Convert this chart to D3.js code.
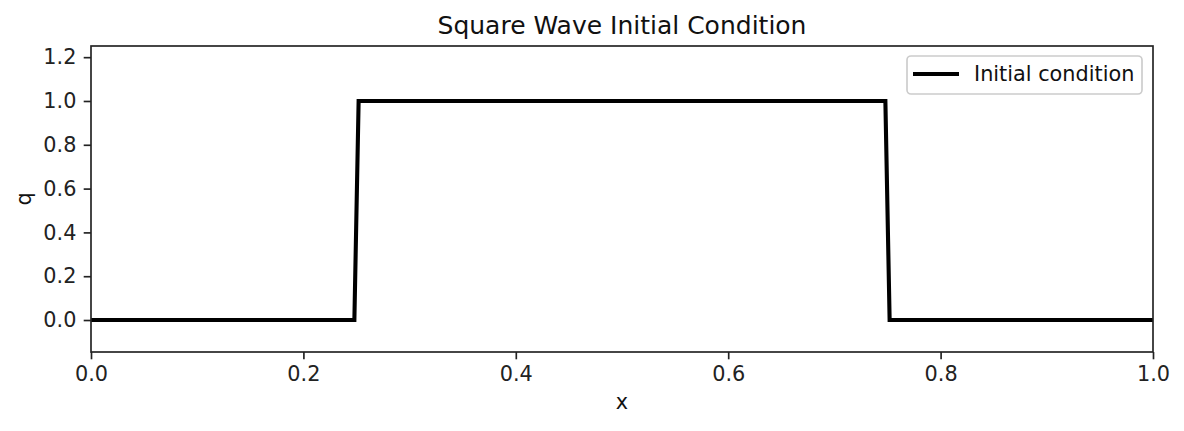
<!DOCTYPE html>
<html><head><meta charset="utf-8">
<script src="https://cdn.jsdelivr.net/npm/d3@7"></script>
<style>body{margin:0;background:#fff}svg{display:block;font-family:"DejaVu Sans",sans-serif}</style>
</head><body><svg id="c" width="1184" height="431"></svg>
<script>
const xValues = [0, 0.248, 0.252, 0.748, 0.752, 1];
const qValues = [0, 0, 1, 1, 0, 0];
const xTicks = [0, 0.2, 0.4, 0.6, 0.8, 1.0];
const yTicks = [0, 0.2, 0.4, 0.6, 0.8, 1.0, 1.2];
const titleText = "Square Wave Initial Condition";
const legendLabel = "Initial condition";

const W = 1184, H = 431;
const m = {left: 91, right: 31, top: 46, bottom: 79};
const svg = d3.select("#c");
const x = d3.scaleLinear().domain([0, 1]).range([m.left, W - m.right]);
const y = d3.scaleLinear().domain([-0.146, 1.251]).range([H - m.bottom, m.top]);

const data = xValues.map((v, i) => [v, qValues[i]]);
svg.append("defs").append("clipPath").attr("id", "clip").append("rect")
  .attr("x", m.left).attr("y", m.top).attr("width", W - m.left - m.right).attr("height", H - m.top - m.bottom);

svg.append("path").datum(data).attr("clip-path", "url(#clip)")
  .attr("d", d3.line().x(d => x(d[0])).y(d => y(d[1])))
  .attr("fill", "none").attr("stroke", "#000").attr("stroke-width", 4.1).attr("stroke-linejoin", "miter");

const tl = 7.3, tp = 7.3, fs = 20.8;
const xa = svg.append("g").attr("transform", `translate(0,${H - m.bottom})`)
  .call(d3.axisBottom(x).tickValues(xTicks).tickFormat(d3.format(".1f")).tickSize(tl).tickPadding(tp));
const ya = svg.append("g").attr("transform", `translate(${m.left},0)`)
  .call(d3.axisLeft(y).tickValues(yTicks).tickFormat(d3.format(".1f")).tickSize(tl).tickPadding(tp));
[xa, ya].forEach(g => {
  g.select(".domain").remove();
  g.selectAll("line").attr("stroke", "#222").attr("stroke-width", 1.67);
  g.selectAll("text").attr("font-size", fs).attr("fill", "#222").attr("font-family", "DejaVu Sans");
});
svg.append("rect").attr("x", m.left).attr("y", m.top).attr("width", W - m.left - m.right).attr("height", H - m.top - m.bottom)
  .attr("fill", "none").attr("stroke", "#222").attr("stroke-width", 1.67);

svg.append("text").attr("x", (m.left + W - m.right) / 2).attr("y", 33.5).attr("text-anchor", "middle")
  .attr("font-size", 25).attr("fill", "#111").text(titleText);
svg.append("text").attr("x", (m.left + W - m.right) / 2).attr("y", 409).attr("text-anchor", "middle")
  .attr("font-size", fs).attr("fill", "#111").text("x");
svg.append("text").attr("transform", `translate(30.5,${(m.top + H - m.bottom) / 2}) rotate(-90)`).attr("text-anchor", "middle")
  .attr("font-size", fs).attr("fill", "#111").text("q");

const lg = svg.append("g");
lg.append("rect").attr("x", 907).attr("y", 56).attr("width", 235).attr("height", 38).attr("rx", 4)
  .attr("fill", "#fff").attr("fill-opacity", 0.8).attr("stroke", "#ccc").attr("stroke-width", 1.67);
lg.append("line").attr("x1", 913).attr("x2", 959).attr("y1", 74).attr("y2", 74).attr("stroke", "#000").attr("stroke-width", 4.1);
lg.append("text").attr("x", 974).attr("y", 81).attr("font-size", fs).attr("fill", "#111").text(legendLabel);
</script></body></html>
